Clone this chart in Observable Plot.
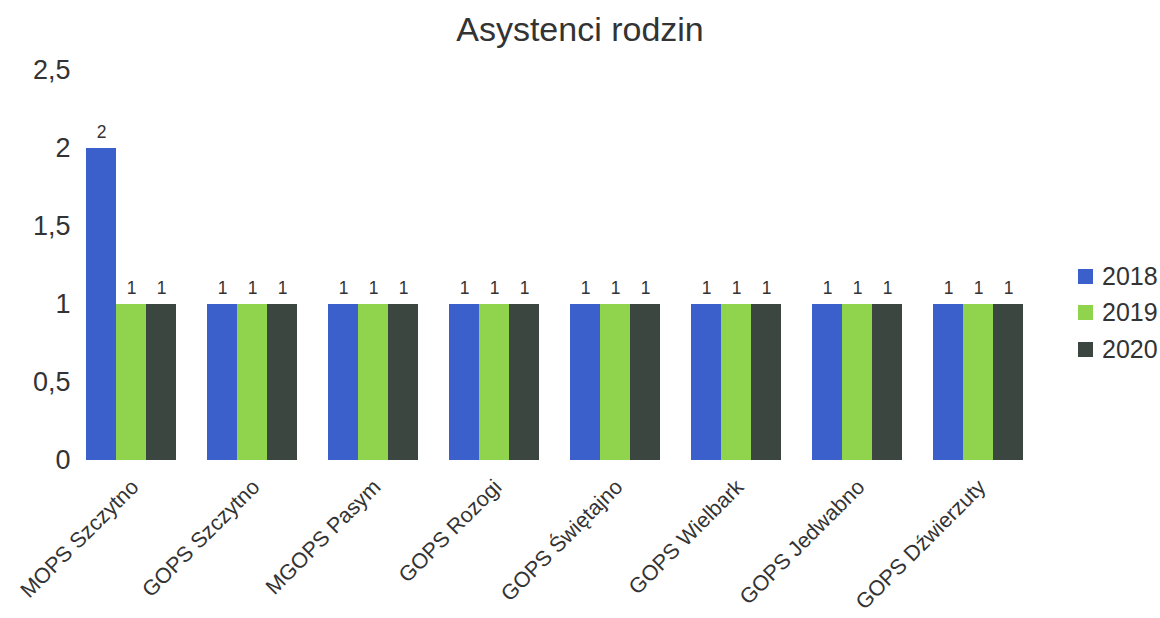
<!DOCTYPE html>
<html><head><meta charset="utf-8">
<script src="https://cdn.jsdelivr.net/npm/d3@7"></script>
<script src="https://cdn.jsdelivr.net/npm/@observablehq/plot@0.6"></script>
<style>
body{margin:0;background:#fff;font-family:"Liberation Sans",Arial,sans-serif;}
#wrap{position:relative;width:1160px;height:618px;}
#title{height:56px;line-height:58px;text-align:center;font-size:34px;color:#333;}
#legend{position:absolute;left:1078px;top:258px;font-size:25px;color:#333;}
#legend div{display:flex;align-items:center;height:36.5px;}
#legend span.sw{display:inline-block;width:15px;height:15px;margin-right:9px;}
</style></head>
<body><div id="wrap"><div id="title">Asystenci rodzin</div><div id="chart"></div><div id="legend"></div></div>
<script>
const categories = ["MOPS Szczytno","GOPS Szczytno","MGOPS Pasym","GOPS Rozogi","GOPS Świętajno","GOPS Wielbark","GOPS Jedwabno","GOPS Dźwierzuty"];
const years = ["2018","2019","2020"];
const v2018 = [2,1,1,1,1,1,1,1];
const v2019 = [1,1,1,1,1,1,1,1];
const v2020 = [1,1,1,1,1,1,1,1];
const colors = ["#3b60cb","#8fd44c","#3c4641"];
const yTicks = [0,0.5,1,1.5,2,2.5];

const series = [v2018, v2019, v2020];
const data = [];
categories.forEach((c,i)=>years.forEach((y,j)=>data.push({cat:c, year:y, value:series[j][i]})));
const fmt = d => String(d).replace(".", ",");

const chart = Plot.plot({
  width:1160, height:562,
  marginLeft:67, marginRight:119, marginTop:14, marginBottom:158,
  style:{fontFamily:"Liberation Sans, Arial, sans-serif", color:"#333", background:"#fff", overflow:"visible"},
  fx:{domain:categories, paddingInner:0.25, paddingOuter:0.125, label:null},
  x:{domain:years, padding:0, axis:null},
  y:{domain:[0,2.5], ticks:yTicks, label:null},
  color:{domain:years, range:colors},
  marks:[
    Plot.axisY({ticks:yTicks, tickSize:0, tickPadding:15, tickFormat:fmt, fontSize:27, label:null}),
    Plot.axisFx({anchor:"bottom", tickSize:0, tickRotate:-45, textAnchor:"end", fontSize:21.5, tickPadding:23, dx:4, label:null}),
    Plot.barY(data, {fx:"cat", x:"year", y:"value", fill:"year"}),
    Plot.text(data, {fx:"cat", x:"year", y:"value", text:d=>fmt(d.value), dy:-16, fontSize:17.5, fill:"#333"})
  ]
});
document.getElementById("chart").appendChild(chart);
const lg = document.getElementById("legend");
years.forEach((y,i)=>{const d=document.createElement("div");d.innerHTML=`<span class="sw" style="background:${colors[i]}"></span>${y}`;lg.appendChild(d);});
</script></body></html>
